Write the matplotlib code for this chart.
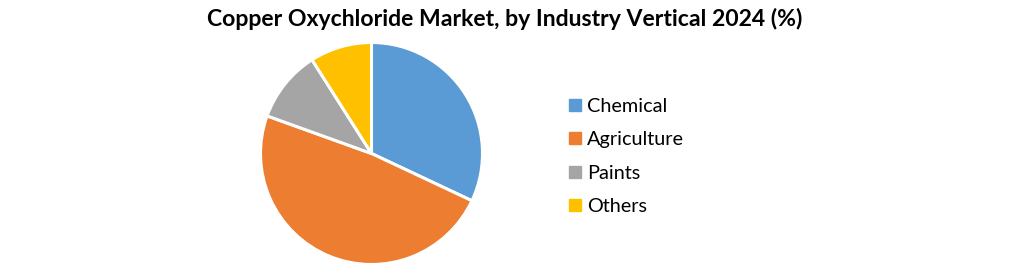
import matplotlib.pyplot as plt
from matplotlib.lines import Line2D

segments = ['Chemical', 'Agriculture', 'Paints', 'Others']
shares = [32.0, 48.5, 10.5, 9.0]
colors = ['#5B9BD5', '#ED7D31', '#A5A5A5', '#FFC000']

W, H = 1021, 267
fig = plt.figure(figsize=(W / 100, H / 100), dpi=100)

# pie placed by pixel centre / radius
cx, cy, r = 371.5, 153.5, 111
ax = fig.add_axes([(cx - r) / W, (H - cy - r) / H, 2 * r / W, 2 * r / H])
ax.pie(shares, colors=colors, startangle=90, counterclock=False, radius=1,
       wedgeprops=dict(edgecolor='white', linewidth=2.2))
ax.set_xlim(-1, 1)
ax.set_ylim(-1, 1)
ax.set_aspect('auto')
ax.axis('off')

fig.text(505 / W, 1 - 19 / H, 'Copper Oxychloride Market, by Industry Vertical 2024 (%)',
         ha='center', va='center', fontsize=16.6, fontweight='bold',
         family='Lato', color='black')

handles = [Line2D([], [], marker='s', linestyle='none', markersize=8,
                  markerfacecolor=c, markeredgecolor=c) for c in colors]
fig.legend(handles, segments, loc='upper left',
           bbox_to_anchor=(557 / W, 1 - 88 / H), frameon=False,
           prop=dict(family='Lato', size=14.3), handletextpad=0.23,
           handlelength=0.8, labelspacing=0.82, borderpad=0)

fig.savefig('out.png', dpi=100, facecolor='white')
